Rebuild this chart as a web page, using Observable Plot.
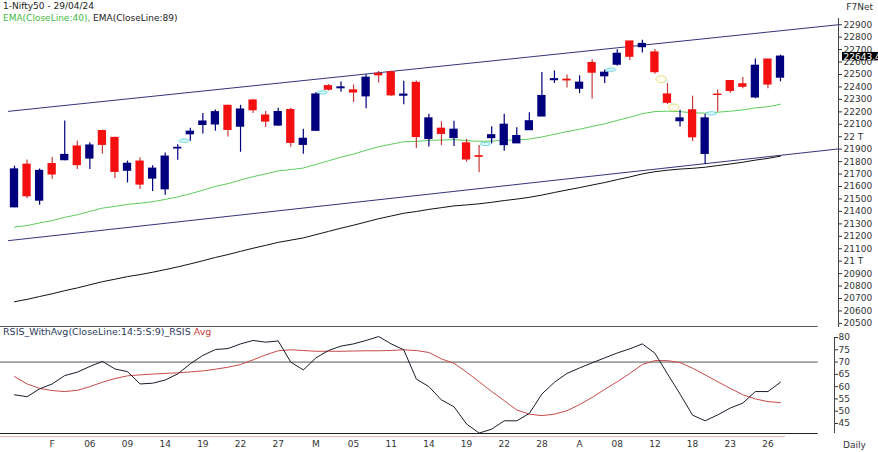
<!DOCTYPE html>
<html><head><meta charset="utf-8">
<script src="https://cdn.jsdelivr.net/npm/d3@7"></script>
<script src="https://cdn.jsdelivr.net/npm/@observablehq/plot@0.6"></script>
<style>
body{margin:0;background:#fff;}
#wrap{position:relative;width:878px;height:452px;overflow:hidden;font-family:"DejaVu Sans",Verdana,sans-serif;font-size:9px;color:#222;background:#fff}
.abs{position:absolute;white-space:nowrap;line-height:11px}
#price,#rsi{position:absolute;left:0}
#price{top:0}
#rsi{top:325px}
</style></head>
<body><div id="wrap">
<div id="price"></div><div id="rsi"></div>
<div class="abs" style="left:3px;top:1px">1-Nifty50 - 29/04/24</div>
<div class="abs" style="left:3px;top:13px"><span style="color:#44bb44">EMA(CloseLine:40),</span> EMA(CloseLine:89)</div>
<div class="abs" style="right:5px;top:2px;color:#333">F7Net</div>
<div class="abs" style="left:3px;top:326px;font-size:9.5px;color:#2c3a5c">RSIS_WithAvg(CloseLine:14:5:S:9)_RSIS <span style="color:#d03a3a">Avg</span></div>
<div class="abs" style="left:843px;top:440px;color:#333">Daily</div>
</div>
<script>
// ---- data ----
const open  = [21433,21775,21487,21780,21812,21921,21825,22045,21990,21727,21800,21664,21578,21906,22020,22095,22099,22248,22081,22291,22170,22090,22214,21935,22048,22406,22390,22372,22325,22505,22517,22330,22432,21982,22064,21990,21946,21843,21989,21933,21947,22053,22163,22455,22458,22386,22592,22486,22579,22765,22720,22677,22339,22125,22212,21862,22338,22447,22421,22316,22620,22475];
const high  = [21763,21813,21741,21833,22127,21964,21951,22053,21996,21804,21831,21766,21870,21935,22069,22186,22215,22252,22252,22297,22202,22229,22229,22060,22353,22420,22440,22416,22497,22525,22527,22446,22447,22180,22120,22124,21978,21930,22081,22180,22073,22193,22516,22529,22495,22490,22619,22537,22698,22768,22776,22700,22427,22213,22326,22180,22375,22447,22476,22625,22620,22655];
const low   = [21429,21501,21449,21658,21806,21737,21737,21860,21665,21629,21575,21560,21530,21810,21964,22022,22045,21997,21875,22186,22075,22084,21915,21860,22044,22367,22358,22275,22224,22431,22325,22256,21905,21917,21928,21921,21796,21710,21941,21883,21947,22052,22163,22428,22392,22346,22303,22428,22568,22612,22673,22503,22259,22079,21961,21777,22198,22349,22385,22305,22386,22441];
const close = [21737,21522,21725,21697,21853,21772,21929,21935,21718,21782,21616,21743,21840,21910,22040,22122,22197,22055,22218,22213,22122,22198,21951,21983,22339,22378,22396,22356,22474,22494,22333,22338,21998,22147,22023,22056,21818,21839,22012,22096,22005,22124,22327,22462,22453,22434,22515,22514,22666,22643,22745,22519,22273,22147,21996,22147,22336,22368,22402,22570,22420,22643.4];
const ema40 = [21274,21286,21307,21326,21352,21373,21400,21426,21440,21457,21465,21478,21496,21516,21542,21570,21601,21623,21652,21679,21701,21725,21736,21748,21777,21806,21836,21861,21891,21920,21940,21960,21962,21971,21973,21977,21969,21963,21965,21972,21973,21981,21998,22020,22041,22060,22083,22104,22131,22156,22185,22202,22205,22202,22192,22190,22197,22205,22215,22232,22241,22261];
const ema89 = [20674,20693,20716,20738,20763,20785,20810,20835,20855,20876,20892,20911,20932,20954,20978,21003,21030,21053,21079,21104,21127,21151,21169,21187,21213,21239,21265,21289,21315,21341,21363,21385,21399,21416,21430,21444,21452,21461,21473,21487,21499,21513,21531,21552,21572,21591,21612,21632,21655,21677,21701,21719,21731,21740,21746,21755,21768,21781,21795,21812,21826,21844];
const rsi   = [56.7,55.9,59.1,61.1,64.5,65.9,68.2,70.3,67.2,66.1,61.1,61.4,62.7,65.2,69.3,72.7,75.1,75.5,77.4,78.8,78.1,78.6,70,66.8,71.7,74.7,76.5,77.4,78.8,80.4,77.4,75,63.1,60,54.6,51.8,44.8,41.1,42.7,46.1,46.1,49.1,57,61.8,65.4,67.6,69.7,71.7,73.7,75.4,77.4,73.6,65.2,57,48.4,46.1,48.5,51.3,53.3,58,58,61.8];
const rsiAvg= [64.1,61.1,59.3,58.4,58,58.5,60,61.8,63.3,64.4,64.8,65.1,65.4,65.6,66,66.4,67.1,67.9,69,70.9,72.9,74.6,75,74.7,74.4,74.4,74.4,74.5,74.6,74.6,74.7,75,74.7,73.9,71.3,69.5,65.9,62,58,54.3,50.5,48.8,48.2,48.8,50.2,52.7,55.6,58.9,62,65.4,69,70.6,70.6,69.8,67.5,64.8,62,59.3,56.7,55,53.9,53.5];
// trend channel end points (bar index, price)
const channelUpper = [{i:-0.48, v:22204},{i:65.62, v:22900}];
const channelLower = [{i:-0.48, v:21165},{i:65.62, v:21902}];
// signal ellipses (bar index, price)
const cyanMarks   = [{i:13.5,v:21968},{i:24.5,v:22356},{i:37.5,v:21942},{i:47.5,v:22539},{i:55.5,v:22188}];
const yellowMarks = [{i:51.5,v:22462},{i:52.5,v:22236}];
const priceTicks = [20500,20600,20700,20800,20900,21000,21100,21200,21300,21400,21500,21600,21700,21800,21900,22000,22100,22200,22300,22400,22500,22600,22700,22800,22900];
const rsiTicks = [45,50,55,60,65,70,75,80];
const rsiLevel = 70;
const xTickLabels = ["F","06","09","14","19","22","27","M","05","11","14","19","22","28","A","08","12","18","23","26"];
const xTickStart = 3, xTickStep = 3;

// ---- build ----
const n = close.length;
const idx = d3.range(n);
const candles = idx.map(i => ({i, o: open[i], h: high[i], l: low[i], c: close[i], up: close[i] >= open[i]}));
const NAVY = "#00007e", RED = "#f41010", REDW = "#c83a3a";
const xDomain = [-1.115, 65.62];
const tickIdx = xTickLabels.map((_, k) => xTickStart + k * xTickStep);
const font = {fontFamily: "DejaVu Sans, Verdana, sans-serif", fontSize: "9px", background: "transparent", color: "#333", overflow: "visible"};

function ellipse(rx, ry) {
  const k = 0.5523;
  return {draw(ctx) {
    ctx.moveTo(rx, 0);
    ctx.bezierCurveTo(rx, ry * k, rx * k, ry, 0, ry);
    ctx.bezierCurveTo(-rx * k, ry, -rx, ry * k, -rx, 0);
    ctx.bezierCurveTo(-rx, -ry * k, -rx * k, -ry, 0, -ry);
    ctx.bezierCurveTo(rx * k, -ry, rx, -ry * k, rx, 0);
    ctx.closePath();
  }};
}
const last = candles[n - 1];

const price = Plot.plot({
  width: 878, height: 326,
  marginLeft: 0, marginRight: 40, marginTop: 18, marginBottom: 0,
  style: font,
  x: {domain: xDomain, axis: null},
  y: {domain: [20475, 22950], axis: null},
  marks: [
    Plot.frame({anchor: "right", stroke: "#444"}),
    Plot.line(channelUpper, {x: "i", y: "v", stroke: "#34347c", strokeWidth: 1}),
    Plot.line(channelLower, {x: "i", y: "v", stroke: "#34347c", strokeWidth: 1}),
    Plot.line(idx, {x: i => i, y: i => ema89[i], stroke: "#111", strokeWidth: 1}),
    Plot.line(idx, {x: i => i, y: i => ema40[i], stroke: "#5ccc5c", strokeWidth: 1}),
    Plot.dot(cyanMarks, {x: "i", y: "v", symbol: ellipse(5, 1.6), r: 1, stroke: "#66d8e0", fill: "#e4fbfc", strokeWidth: 1}),
    Plot.dot(yellowMarks, {x: "i", y: "v", symbol: ellipse(5.2, 3.4), r: 1, stroke: "#e6dc80", fill: "#fffdf0", strokeWidth: 1}),
    Plot.ruleX(candles, {x: "i", y1: "l", y2: "h", stroke: d => d.up ? NAVY : REDW, strokeWidth: 1.2}),
    Plot.rect(candles, {x1: d => d.i - 0.33, x2: d => d.i + 0.33, y1: "o", y2: "c",
      fill: d => d.up ? NAVY : RED, insetTop: -0.6, insetBottom: -0.6}),
    Plot.axisY({anchor: "right", ticks: priceTicks, tickSize: 3, tickPadding: 2, fontSize: 9,
      tickFormat: d => d % 1000 === 0 ? `${d / 1000} T` : `${d}`}),
    Plot.rect([last], {x1: () => xDomain[1], x2: () => xDomain[1] + 4, y1: d => d.c - 34, y2: d => d.c + 34, fill: "#000", insetLeft: 4}),
    Plot.text([last], {y: "c", frameAnchor: "right", dx: 5, textAnchor: "start", fill: "#fff", fontSize: 9, text: d => d.c.toFixed(1)})
  ]
});
document.getElementById("price").appendChild(price);

const rsiDomain = [40.93, 84.48];
const rsiPlot = Plot.plot({
  width: 878, height: 127,
  marginLeft: 0, marginRight: 40, marginTop: 1, marginBottom: 19,
  style: font,
  x: {domain: xDomain, axis: null},
  y: {domain: rsiDomain, axis: null},
  marks: [
    Plot.ruleY([rsiDomain[1]], {x1: xDomain[0], x2: n + 2, stroke: "#555", strokeWidth: 1}),
    Plot.ruleY([rsiLevel], {x1: xDomain[0], x2: n + 2, stroke: "#555", strokeWidth: 1}),
    Plot.ruleY([rsiDomain[0]], {x1: xDomain[0], x2: n + 2, stroke: "#222", strokeWidth: 1}),
    Plot.ruleY([rsiDomain[0]], {x1: xDomain[0], x2: n - 0.6, dy: 3, stroke: "#e8b4b4", strokeWidth: 1.2}),
    Plot.ruleX([xDomain[1]], {y1: rsiDomain[0], y2: rsiTicks[rsiTicks.length - 1], stroke: "#444", dx: -4}),
    Plot.line(idx, {x: i => i, y: i => rsiAvg[i], stroke: "#c94a4a", strokeWidth: 1}),
    Plot.line(idx, {x: i => i, y: i => rsi[i], stroke: "#1a1a2a", strokeWidth: 1}),
    Plot.axisY({anchor: "right", ticks: rsiTicks, tickSize: 3, tickPadding: 1, fontSize: 9, dx: -4}),
    Plot.axisX({anchor: "bottom", ticks: tickIdx, tickSize: 0, tickPadding: 7, fontSize: 9,
      tickFormat: (d) => xTickLabels[(d - xTickStart) / xTickStep]})
  ]
});
document.getElementById("rsi").appendChild(rsiPlot);
</script>
</body></html>
